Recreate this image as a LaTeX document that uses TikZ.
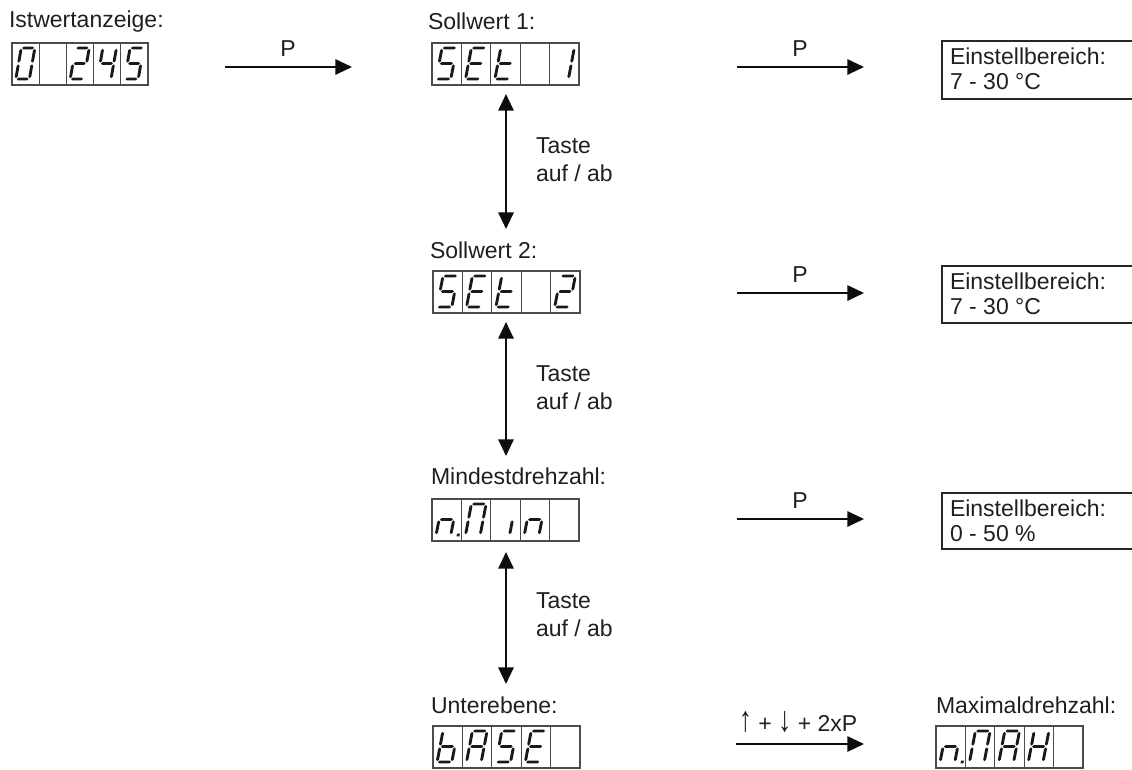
\documentclass[tikz,border=0pt]{standalone}
\usepackage{fontspec}
\setmainfont{Liberation Sans}
\usetikzlibrary{arrows.meta}

% segment polygons, local coords: y up, digit height 31, width \cW, half thickness 1.45
\newcommand\hsegm[3]{\fill[segfill] (#1,#3) -- (#1+1.45,#3+1.45) -- (#2-1.45,#3+1.45) -- (#2,#3) -- (#2-1.45,#3-1.45) -- (#1+1.45,#3-1.45) -- cycle;}
\newcommand\vsegm[3]{\fill[segfill] (#1,#2) -- (#1+1.45,#2-1.45) -- (#1+1.45,#3+1.45) -- (#1,#3) -- (#1-1.45,#3+1.45) -- (#1-1.45,#2-1.45) -- cycle;}
\newcommand\sga{\hsegm{0.9}{\cW-0.9}{31}}
\newcommand\sgb{\vsegm{\cW}{30.1}{16.4}}
\newcommand\sgc{\vsegm{\cW}{14.6}{0.9}}
\newcommand\sgd{\hsegm{0.9}{\cW-0.9}{0}}
\newcommand\sge{\vsegm{0}{14.6}{0.9}}
\newcommand\sgf{\vsegm{0}{30.1}{16.4}}
\newcommand\sgg{\hsegm{0.9}{\cW-0.9}{15.5}}
\newcommand\sgp{\fill[segfill] (\cW+6,-1.3) rectangle ++(2.8,2.8);}
\newcommand\sgz{}

% one cell: #1 x0, #2 y0, #3 cell width, #4 segment list
\newcommand\segcell[4]{%
  \draw[cellframe] (#1,#2) rectangle ++(#3,42);
  \pgfmathsetmacro{\cW}{0.5*#3}%
  \pgfmathsetmacro{\cS}{0.2*#3/31}%
  \begin{scope}[shift={(#1+0.14*#3,#2+36)}, x=0.75pt, y=0.75pt, xslant=\cS]
    \foreach \s in {#4} {\csname sg\s\endcsname}
  \end{scope}
}

% a display of five cells: #1 name, #2 x0, #3 y0, #4 cell width, #5..#9 cells
\newcommand\segdisplay[9]{%
  \segcell{#2}{#3}{#4}{#5}%
  \segcell{#2+#4}{#3}{#4}{#6}%
  \segcell{#2+2*#4}{#3}{#4}{#7}%
  \segcell{#2+3*#4}{#3}{#4}{#8}%
  \segcell{#2+4*#4}{#3}{#4}{#9}%
  \coordinate (#1) at (#2+2.5*#4,#3+21);
}

\newcommand\upar{\scalebox{1.15}[1.55]{↑}}
\newcommand\downar{\scalebox{1.15}[1.55]{↓}}

\begin{document}
\begin{tikzpicture}[x=0.75pt,y=-0.75pt,
  every node/.style={inner sep=0pt, outer sep=0pt, text=black!88,
    font=\fontsize{17.25}{21}\selectfont},
  segfill/.style={black!90},
  cellframe/.style={line width=0.9pt, black!70},
  boxline/.style={line width=0.8pt, black!85},
  arr/.style={line width=1.5pt, black!95, -{Triangle[length=12.5pt,width=11.5pt]}},
  darr/.style={line width=1.5pt, black!95, {Triangle[length=12.5pt,width=11.5pt]}-{Triangle[length=12.5pt,width=11.5pt]}},
  lbl/.style={anchor=base west},
  plbl/.style={anchor=base}]
\useasboundingbox (0,0) rectangle (1132,769);

% ---------- displays ----------
\segdisplay{d1}{12}{43}{27.2}{a,b,c,d,e,f}{z}{a,b,g,e,d}{f,g,b,c}{a,f,g,c,d}
\segdisplay{d2}{432}{43}{29.4}{a,f,g,c,d}{a,f,g,e,d}{f,e,g,d}{z}{b,c}
\segdisplay{d3}{433}{271}{29.4}{a,f,g,c,d}{a,f,g,e,d}{f,e,g,d}{z}{a,b,g,e,d}
\segdisplay{d4}{432}{499}{29.4}{e,g,c,p}{a,b,c,e,f}{c}{e,g,c}{z}
\segdisplay{d5}{433}{726}{29.4}{f,e,d,c,g}{a,b,c,e,f,g}{a,f,g,c,d}{a,f,g,e,d}{z}
\segdisplay{d6}{936}{726}{29.4}{e,g,c,p}{a,b,c,e,f}{a,b,c,e,f,g}{b,c,e,f,g}{z}

% ---------- display titles ----------
\node[lbl] (t1) at (9,27) {Istwertanzeige:};
\node[lbl] (t2) at (428,29) {Sollwert 1:};
\node[lbl] (t3) at (430,258) {Sollwert 2:};
\node[lbl] (t4) at (431,484) {Mindestdrehzahl:};
\node[lbl] (t5) at (431,713) {Unterebene:};
\node[lbl] (t6) at (936,713) {Maximaldrehzahl:};

% ---------- horizontal arrows ----------
\coordinate (h1s) at (225,67);  \coordinate (h1e) at (352,67);
\coordinate (h2s) at (737,67);  \coordinate (h2e) at (864,67);
\coordinate (h3s) at (737,293); \coordinate (h3e) at (864,293);
\coordinate (h4s) at (737,519); \coordinate (h4e) at (864,519);
\coordinate (h5s) at (736,744); \coordinate (h5e) at (864,744);
\draw[arr] (h1s) -- (h1e);
\draw[arr] (h2s) -- (h2e);
\draw[arr] (h3s) -- (h3e);
\draw[arr] (h4s) -- (h4e);
\draw[arr] (h5s) -- (h5e);
\node[plbl] (p1) at (288,56) {P};
\node[plbl] (p2) at (800,56) {P};
\node[plbl] (p3) at (800,282) {P};
\node[plbl] (p4) at (800,508) {P};
\node[plbl] (p5) at (798,731) {\upar{} + \downar{} + 2xP};

% ---------- vertical arrows ----------
\coordinate (v1s) at (506,94);  \coordinate (v1e) at (506,229);
\coordinate (v2s) at (506,322); \coordinate (v2e) at (506,456);
\coordinate (v3s) at (506,552); \coordinate (v3e) at (506,684);
\draw[darr] (v1s) -- (v1e);
\draw[darr] (v2s) -- (v2e);
\draw[darr] (v3s) -- (v3e);
\node[lbl] (k1a) at (536,153) {Taste};
\node[lbl] (k1b) at (536,181) {auf / ab};
\node[lbl] (k2a) at (536,381) {Taste};
\node[lbl] (k2b) at (536,409) {auf / ab};
\node[lbl] (k3a) at (536,608) {Taste};
\node[lbl] (k3b) at (536,636) {auf / ab};

% ---------- range boxes (open to the right edge) ----------
\coordinate (b1nw) at (942,41);  \coordinate (b1se) at (1132,99);
\coordinate (b2nw) at (942,266); \coordinate (b2se) at (1132,323);
\coordinate (b3nw) at (942,493); \coordinate (b3se) at (1132,549);
\draw[boxline] (b1se |- b1nw) -- (b1nw) -- (b1nw |- b1se) -- (b1se);
\draw[boxline] (b2se |- b2nw) -- (b2nw) -- (b2nw |- b2se) -- (b2se);
\draw[boxline] (b3se |- b3nw) -- (b3nw) -- (b3nw |- b3se) -- (b3se);
\node[lbl] (r1a) at (950,64) {Einstellbereich:};
\node[lbl] (r1b) at (950,89) {7 - 30 °C};
\node[lbl] (r2a) at (950,289) {Einstellbereich:};
\node[lbl] (r2b) at (950,314) {7 - 30 °C};
\node[lbl] (r3a) at (950,516) {Einstellbereich:};
\node[lbl] (r3b) at (950,541) {0 - 50 \%};
\end{tikzpicture}
\end{document}
